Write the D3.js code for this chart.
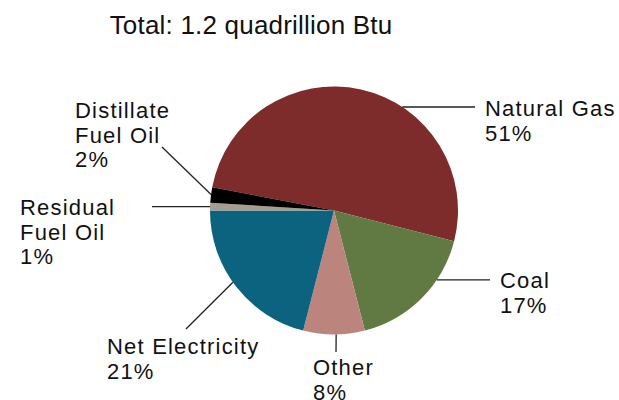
<!DOCTYPE html>
<html>
<head>
<meta charset="utf-8">
<script src="https://cdn.jsdelivr.net/npm/d3@7"></script>
<style>
  body { margin: 0; background: #fff; }
  text { font-family: "Liberation Sans", Arial, Helvetica, sans-serif; fill: #111; }
</style>
</head>
<body>
<div id="chart"></div>
<script>
const width = 619;
const height = 400;

// data
const title = "Total: 1.2 quadrillion Btu";
const sources = ["Natural Gas", "Coal", "Other", "Net Electricity", "Residual Fuel Oil", "Distillate Fuel Oil"];
const shares = [51, 17, 8, 21, 1, 2];
const labelLines = [
  ["Natural Gas"],
  ["Coal"],
  ["Other"],
  ["Net Electricity"],
  ["Residual", "Fuel Oil"],
  ["Distillate", "Fuel Oil"]
];
const colors = ["#7e2c2b", "#617a44", "#bb857d", "#0c6380", "#a59d90", "#000000"];

// label / leader layout (angle in degrees, clockwise from top)
const layout = [
  {angle: 33.4, end: [475, null], text: [485, 116]},
  {angle: 124, end: [490, null], text: [500, 288]},
  {angle: 179, end: [336, 352], text: [313, 375]},
  {angle: 234.6, end: [186, 329], text: [107, 354]},
  {angle: 271.8, end: [152, null], text: [20, 215]},
  {angle: 277.4, end: [162, 147], text: [75, 118]}
];

const cx = 334, cy = 210.5, r = 124;
const startDeg = -79.2;

const svg = d3.select("#chart")
  .append("svg")
  .attr("width", width)
  .attr("height", height);

svg.append("text")
  .attr("x", 251)
  .attr("y", 34)
  .attr("text-anchor", "middle")
  .style("font-size", "26px")
  .style("letter-spacing", "0.2px")
  .text(title);

const pie = d3.pie()
  .sort(null)
  .value(d => d)
  .startAngle(startDeg * Math.PI / 180)
  .endAngle((startDeg + 360) * Math.PI / 180);

const arc = d3.arc().innerRadius(0).outerRadius(r);

const g = svg.append("g").attr("transform", `translate(${cx},${cy})`);

g.selectAll("path")
  .data(pie(shares))
  .join("path")
  .attr("d", arc)
  .attr("fill", (d, i) => colors[i]);

// leader lines and labels
layout.forEach((l, i) => {
  const a = l.angle * Math.PI / 180;
  const x1 = cx + r * Math.sin(a);
  const y1 = cy - r * Math.cos(a);
  const x2 = l.end[0];
  const y2 = l.end[1] === null ? y1 : l.end[1];
  svg.append("line")
    .attr("x1", x1).attr("y1", y1)
    .attr("x2", x2).attr("y2", y2)
    .attr("stroke", "#222")
    .attr("stroke-width", 1.3);

  const lines = labelLines[i].concat([shares[i] + "%"]);
  const t = svg.append("text")
    .attr("x", l.text[0])
    .attr("y", l.text[1])
    .style("font-size", "22px")
    .style("letter-spacing", "1.2px");
  lines.forEach((s, j) => {
    t.append("tspan")
      .attr("x", l.text[0])
      .attr("y", l.text[1] + j * 24.5)
      .text(s);
  });
});
</script>
</body>
</html>
